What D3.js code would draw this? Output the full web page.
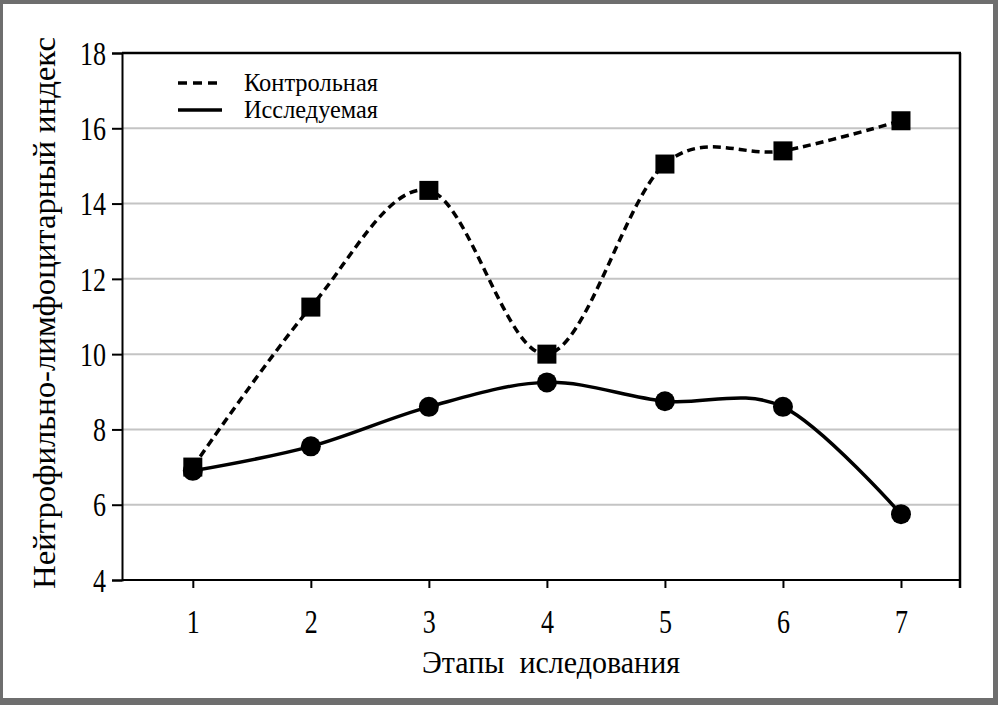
<!DOCTYPE html>
<html><head><meta charset="utf-8">
<script src="https://cdn.jsdelivr.net/npm/d3@7/dist/d3.min.js"></script>
<style>html,body{margin:0;padding:0;background:#fff}svg{display:block}</style>
</head><body>
<script>
const stages = [1, 2, 3, 4, 5, 6, 7];
const controlValues = [7.0, 11.25, 14.35, 10.0, 15.05, 15.4, 16.2];
const studyValues = [6.9, 7.55, 8.6, 9.25, 8.75, 8.6, 5.75];
const yTicks = [4, 6, 8, 10, 12, 14, 16, 18];
const seriesNames = ["Контрольная", "Исследуемая"];
const xTitle = "Этапы  иследования";
const yTitle = "Нейтрофильно-лимфоцитарный индекс";

const W = 998, H = 705;
const m = {left: 122, right: 960, top: 53, bottom: 580};
const font = "'Liberation Serif', 'Times New Roman', serif";

const svg = d3.select("body").append("svg").attr("width", W).attr("height", H);
svg.append("rect").attr("width", W).attr("height", H).attr("fill", "#6e6e6e");
svg.append("rect").attr("x", 3).attr("y", 4).attr("width", 990).attr("height", 694).attr("fill", "#fff");

const x = d3.scaleLinear().domain([0.4, 7.5]).range([m.left, m.right]);
const y = d3.scaleLinear().domain([4, 18]).range([m.bottom, m.top]);

// grid
svg.append("g").selectAll("line").data(yTicks.filter(t => t > 4 && t < 18)).join("line")
  .attr("x1", m.left).attr("x2", m.right)
  .attr("y1", d => y(d)).attr("y2", d => y(d))
  .attr("stroke", "#c4c4c4").attr("stroke-width", 2);

// frame top and right
svg.append("line").attr("x1", m.left).attr("x2", m.right + 1).attr("y1", m.top).attr("y2", m.top)
  .attr("stroke", "#000").attr("stroke-width", 2.5);
svg.append("line").attr("x1", m.right).attr("x2", m.right).attr("y1", m.top).attr("y2", m.bottom + 8)
  .attr("stroke", "#000").attr("stroke-width", 2.5);

// y axis
const yAxis = d3.axisLeft(y).tickValues(yTicks).tickSize(10).tickPadding(6).tickFormat(d3.format("d"));
const gy = svg.append("g").attr("transform", `translate(${m.left},0)`).call(yAxis);
gy.select(".domain").attr("stroke-width", 2);
gy.selectAll(".tick line").attr("stroke-width", 2);
gy.selectAll("text").attr("font-family", font).attr("font-size", 33).attr("fill", "#000")
  .attr("dy", "0.34em")
  .each(function(d) { d3.select(this).attr("textLength", String(d).length * 13).attr("lengthAdjust", "spacingAndGlyphs"); });

// x axis
const xAxis = d3.axisBottom(x).tickValues(stages).tickSize(8).tickPadding(22).tickFormat(d3.format("d"));
const gx = svg.append("g").attr("transform", `translate(0,${m.bottom})`).call(xAxis);
gx.select(".domain").attr("d", `M${m.left},0H${m.right}`).attr("stroke-width", 2);
gx.selectAll(".tick line").attr("stroke-width", 2);
gx.selectAll("text").attr("font-family", font).attr("font-size", 33).attr("fill", "#000")
  .attr("textLength", 13).attr("lengthAdjust", "spacingAndGlyphs");

// titles
svg.append("text").attr("x", 551).attr("y", 673).attr("text-anchor", "middle")
  .attr("font-family", font).attr("font-size", 32).style("white-space", "pre")
  .attr("textLength", 258).attr("lengthAdjust", "spacingAndGlyphs").text(xTitle);
svg.append("text").attr("transform", "translate(55,313) rotate(-90)").attr("text-anchor", "middle")
  .attr("font-family", font).attr("font-size", 32)
  .attr("textLength", 552).attr("lengthAdjust", "spacingAndGlyphs").text(yTitle);

// lines
const line = d3.line().x((d, i) => x(stages[i])).y(d => y(d)).curve(d3.curveCardinal.tension(0));
svg.append("path").datum(controlValues).attr("d", line).attr("fill", "none")
  .attr("stroke", "#000").attr("stroke-width", 3.5).attr("stroke-dasharray", "8,5");
svg.append("path").datum(studyValues).attr("d", line).attr("fill", "none")
  .attr("stroke", "#000").attr("stroke-width", 3.5);

// markers
const sq = 19;
svg.append("g").selectAll("rect").data(controlValues).join("rect")
  .attr("x", (d, i) => x(stages[i]) - sq / 2).attr("y", d => y(d) - sq / 2)
  .attr("width", sq).attr("height", sq).attr("fill", "#000");
svg.append("g").selectAll("circle").data(studyValues).join("circle")
  .attr("cx", (d, i) => x(stages[i])).attr("cy", d => y(d)).attr("r", 10).attr("fill", "#000");

// legend
const lg = svg.append("g");
[0, 1].forEach(i => {
  const ly = 83 + i * 27;
  lg.append("line").attr("x1", 178).attr("x2", 222).attr("y1", ly).attr("y2", ly)
    .attr("stroke", "#000").attr("stroke-width", 3.5).attr("stroke-dasharray", i === 0 ? "9,6" : null);
  lg.append("text").attr("x", 244).attr("y", ly + 8).attr("font-family", font).attr("font-size", 25)
    .attr("textLength", 134).attr("lengthAdjust", "spacingAndGlyphs").text(seriesNames[i]);
});
</script>
</body></html>
